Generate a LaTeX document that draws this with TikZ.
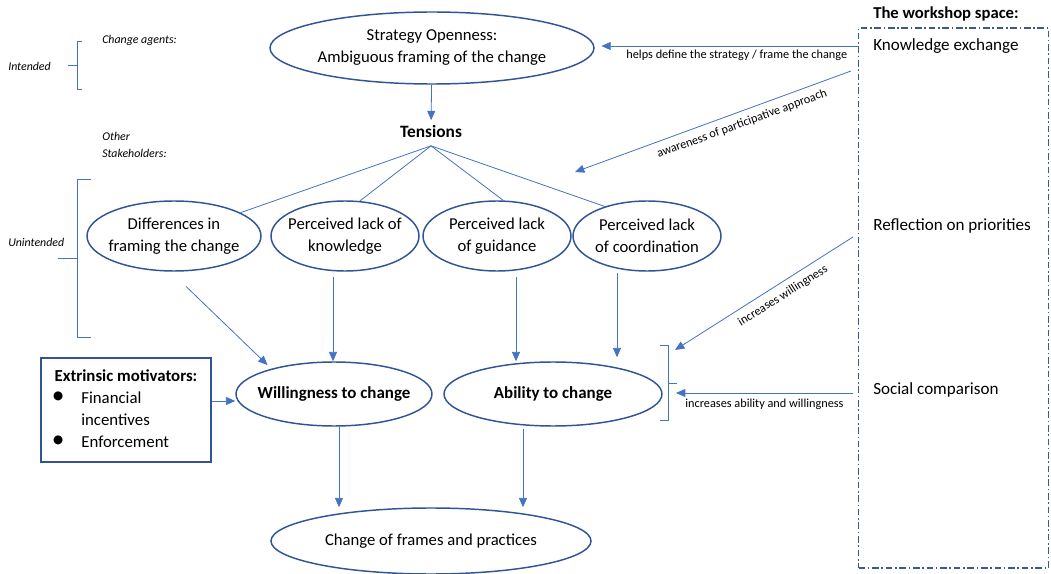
\documentclass[tikz,border=0pt]{standalone}
\usepackage{fontspec}
\setmainfont{Carlito}
\usetikzlibrary{arrows.meta,shapes.geometric,calc}
\definecolor{edgeblue}{HTML}{2F5597}
\definecolor{arrowblue}{HTML}{4472C4}
\definecolor{framegray}{HTML}{3A5A8F}

\begin{document}
\begin{tikzpicture}[x=0.75pt,y=-0.75pt,
  oval/.style={ellipse, draw=edgeblue, line width=1.1pt, inner sep=-30pt, align=center,
    font=\fontsize{12.5}{16.5}\selectfont},
  boldoval/.style={oval, font=\fontsize{12.7}{15}\selectfont\bfseries},
  arr/.style={draw=arrowblue, line width=0.6pt, -{Triangle[length=7pt,width=6pt]}},
  link/.style={draw=arrowblue, line width=0.6pt},
  note/.style={font=\fontsize{9.2}{11}\selectfont, inner sep=1pt},
  side/.style={font=\fontsize{8.9}{12.75}\selectfont\itshape, inner sep=0pt, align=left},
  brace/.style={draw=arrowblue, line width=0.6pt},
  item/.style={font=\fontsize{12.8}{15}\selectfont, anchor=west, inner sep=0pt}
]
\useasboundingbox (0,0) rectangle (1051,574);

% main chain of ellipses
\node[oval, minimum width=243pt, minimum height=54pt] (strat) at (432,48)
  {Strategy Openness:\\Ambiguous framing of the change};
\node[font=\fontsize{13}{15}\selectfont\bfseries] (tens) at (431,131) {Tensions};
\coordinate (hub) at ([yshift=-3pt]tens.south);

\node[oval, minimum width=130.5pt, minimum height=52.5pt] (diff) at (174,236)
  {Differences in\\framing the change};
\node[oval, minimum width=111pt, minimum height=52.5pt] (know) at (345,236)
  {Perceived lack of\\knowledge};
\node[oval, minimum width=111pt, minimum height=52.5pt] (guid) at (497,236)
  {Perceived lack\\of guidance};
\node[oval, minimum width=111pt, minimum height=52.5pt] (coord) at (647,236)
  {Perceived lack\\of coordination};

\node[boldoval, minimum width=147pt, minimum height=48pt] (will) at (334,394) {Willingness to change};
\node[boldoval, minimum width=163.5pt, minimum height=48pt] (abil) at (553,394) {Ability to change};
\node[oval, minimum width=240pt, minimum height=49.5pt] (chg) at (431,541)
  {Change of frames and practices};

% extrinsic motivators
\node[draw=edgeblue, line width=0.9pt, minimum width=127.5pt, minimum height=78pt, inner sep=0pt,
  font=\fontsize{12.6}{16.5}\selectfont] (ext) at (126,410)
  {\begin{tabular}{@{}p{20pt}@{}l@{}}
   \multicolumn{2}{@{}l@{}}{\bfseries Extrinsic motivators:}\\
   \hspace{-2pt}{\fontsize{19}{16.5}\selectfont\textbullet} & Financial\\
   & incentives\\
   \hspace{-2pt}{\fontsize{19}{16.5}\selectfont\textbullet} & Enforcement
   \end{tabular}};

% workshop space
\node[draw=framegray, line width=1pt, dash pattern=on 5pt off 2pt on 1.2pt off 2pt,
  minimum width=142.5pt, minimum height=405pt, inner sep=0pt] (wbox) at (953.5,298) {};
\node[font=\fontsize{12.5}{15}\selectfont\bfseries] (wtitle) at (946,14) {The workshop space:};
\node[item] (ke) at (873,46) {Knowledge exchange};
\node[item] (rp) at (873,226) {Reflection on priorities};
\node[item] (sc) at (873,390) {Social comparison};

% side labels and braces
\node[side, anchor=west] (intd) at (8,66) {Intended};
\node[side, anchor=west] (agents) at (102,40) {Change agents:};
\node[side, anchor=north west] (others) at (102,132) {Other\\Stakeholders:};
\node[side, anchor=west] (unint) at (8,242) {Unintended};
\draw[brace] (82,41) -- (77,41) -- (77,89) -- (82,89);
\draw[brace] (68,65) -- (77,65);
\draw[brace] (91,179) -- (77,179) -- (77,337) -- (91,337);
\draw[brace] (58,258) -- (77,258);
\draw[brace] (660,345) -- (668,345) -- (668,420) -- (660,420);
\draw[brace] (668,383) -- (677,383);

% connectors
\draw[arr] (strat) -- (tens);
\draw[link] (hub) -- (diff);
\draw[link] (hub) -- (know.67);
\draw[link] (hub) -- (guid.80);
\draw[link] (hub) -- (coord.145);

\draw[arr, shorten >=4pt] ([xshift=9pt,yshift=-11pt]diff.south) -- (will.158);
\coordinate (ka) at ([xshift=-9pt,yshift=-4pt]know.south);
\draw[arr] (ka) -- (ka |- will.north);
\coordinate (ga) at ([xshift=14.25pt,yshift=-4pt]guid.south);
\draw[arr] (ga) -- (ga |- abil.north);
\coordinate (ca) at ([xshift=-22.5pt,yshift=-1pt]coord.south);
\draw[arr, shorten >=3pt] (ca) -- (ca |- abil.north);

\coordinate (ea) at ([yshift=6.75pt]ext.east);
\draw[arr] (ea) -- (ea -| will.west);

\coordinate (wa) at ([xshift=3.75pt]will.south);
\draw[arr] (wa) -- (wa |- chg.north);
\coordinate (aa) at ([xshift=-22.5pt,yshift=-1.5pt]abil.south);
\draw[arr] (aa) -- (aa |- chg.north);

% influences from the workshop space
\draw[arr, shorten >=5pt] (ke.west -| wbox.west) -- (ke.west -| strat.east)
  node[note, below, pos=.46, yshift=-2pt] {helps define the strategy / frame the change};

\coordinate (awS) at (851,71);
\coordinate (awE) at (575,172);
\draw[arr] (awS) -- (awE);
\path (awE) -- (awS) node[note, sloped, below=4pt, pos=.59] {awareness of participative approach};

\coordinate (iwS) at (853,237);
\coordinate (iwE) at (675,350);
\draw[arr] (iwS) -- (iwE);
\path (iwE) -- (iwS) node[note, sloped, below=4pt, pos=.57] {increases willingness};

\coordinate (scS) at (853,393);
\coordinate (scE) at (676,393);
\draw[arr] (scS) -- (scE) node[note, below=3pt, pos=.5] {increases ability and willingness};

\end{tikzpicture}
\end{document}
